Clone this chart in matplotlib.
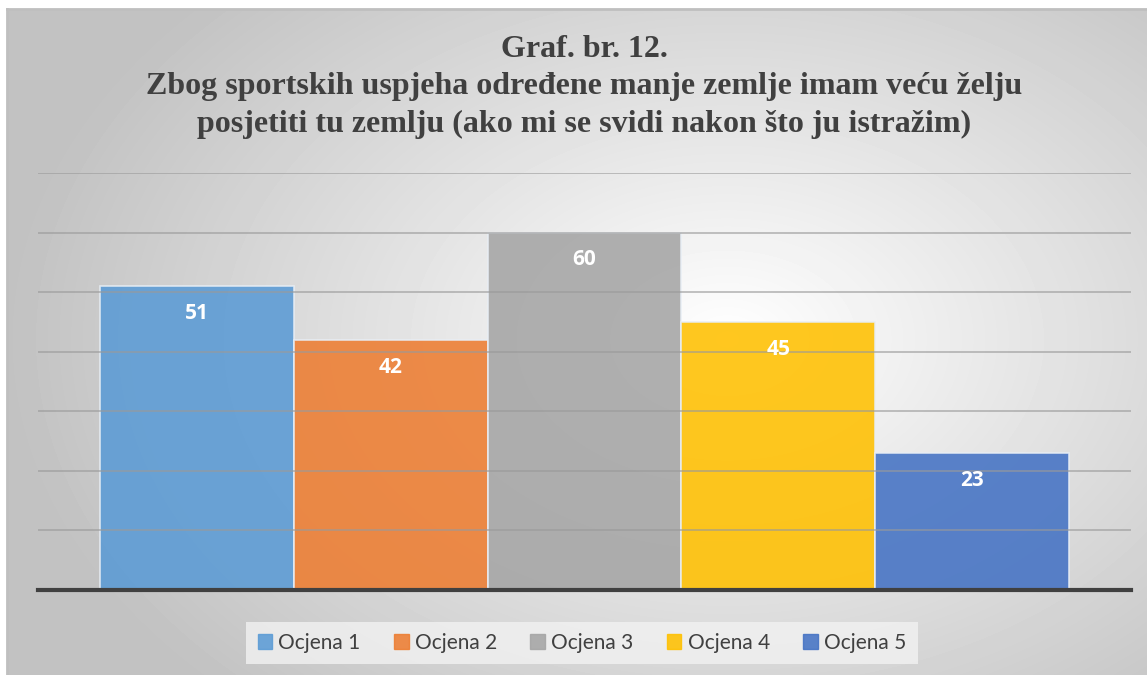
import numpy as np
import matplotlib.pyplot as plt

title_lines = ["Graf. br. 12.",
               "Zbog sportskih uspjeha određene manje zemlje imam veću želju",
               "posjetiti tu zemlju (ako mi se svidi nakon što ju istražim)"]
categories = ["Ocjena 1", "Ocjena 2", "Ocjena 3", "Ocjena 4", "Ocjena 5"]
values = [51, 42, 60, 45, 23]
colors = ["#5B9BD5", "#ED7D31", "#A5A5A5", "#FFC000", "#4472C4"]

W, H = 1147, 675
fig = plt.figure(figsize=(W / 100, H / 100), dpi=100)

# radial gradient background of the chart area
bg = fig.add_axes([7 / W, 0, 1 - 7 / W, 1 - 9 / H])
yy, xx = np.mgrid[0:666, 0:1140]
r = np.sqrt(((xx - 720) / 900) ** 2 + ((yy - 330) / 620) ** 2)
shade = np.clip(1.0 - 0.30 * r, 0.76, 1.0)
bg.imshow(shade, cmap="gray", vmin=0, vmax=1, aspect="auto", extent=[0, 1, 0, 1])
bg.set_xlim(0, 1)
bg.set_ylim(0, 1)
for s in ["top", "left"]:
    bg.spines[s].set_color("#bfbfbf")
    bg.spines[s].set_linewidth(2)
for s in ["bottom", "right"]:
    bg.spines[s].set_visible(False)
bg.set_xticks([])
bg.set_yticks([])

ax = fig.add_axes([38 / W, 85 / H, (1131 - 38) / W, (590 - 173) / H])
ax.patch.set_alpha(0)
x = np.arange(len(values))
bars = ax.bar(x, values, width=1.0, color=colors, alpha=0.88,
              edgecolor="#e8eef5", linewidth=1.2, zorder=2)
ax.set_xlim(-0.82, 4.82)
ax.set_ylim(0, 70)
ax.set_yticks(np.arange(10, 71, 10))
ax.grid(axis="y", color="#9a9a9a", linewidth=1.2, alpha=0.7, zorder=3)
ax.set_axisbelow(False)
ax.tick_params(left=False, bottom=False, labelleft=False, labelbottom=False)
for s in ["top", "left", "right"]:
    ax.spines[s].set_visible(False)
ax.spines["bottom"].set_color("#404040")
ax.spines["bottom"].set_linewidth(3)
ax.spines["bottom"].set_zorder(4)

for xi, v in zip(x, values):
    ax.text(xi, v - 4.6, str(v), ha="center", va="center", color="white",
            fontsize=15, fontweight="bold", family="Open Sans", zorder=5)

fig.text(584 / W, 1 - 87 / H, "\n".join(title_lines), ha="center", va="center",
         family="Liberation Serif", fontweight="bold", fontsize=23,
         color="#404040", linespacing=1.37)

handles = [plt.Rectangle((0, 0), 1, 1, color=c, alpha=0.88) for c in colors]
leg = fig.legend(handles, categories, loc="center", bbox_to_anchor=(582 / W, 1 - 643 / H),
                 ncol=5, frameon=True, fancybox=False,
                 prop={"family": "Lato", "size": 15}, handlelength=0.7, handleheight=0.7,
                 handletextpad=0.3, columnspacing=1.6, borderpad=0.55)
leg.get_frame().set_facecolor("#f2f2f2")
leg.get_frame().set_edgecolor("none")
for t in leg.get_texts():
    t.set_color("#404040")

fig.savefig("out.png", dpi=100)
